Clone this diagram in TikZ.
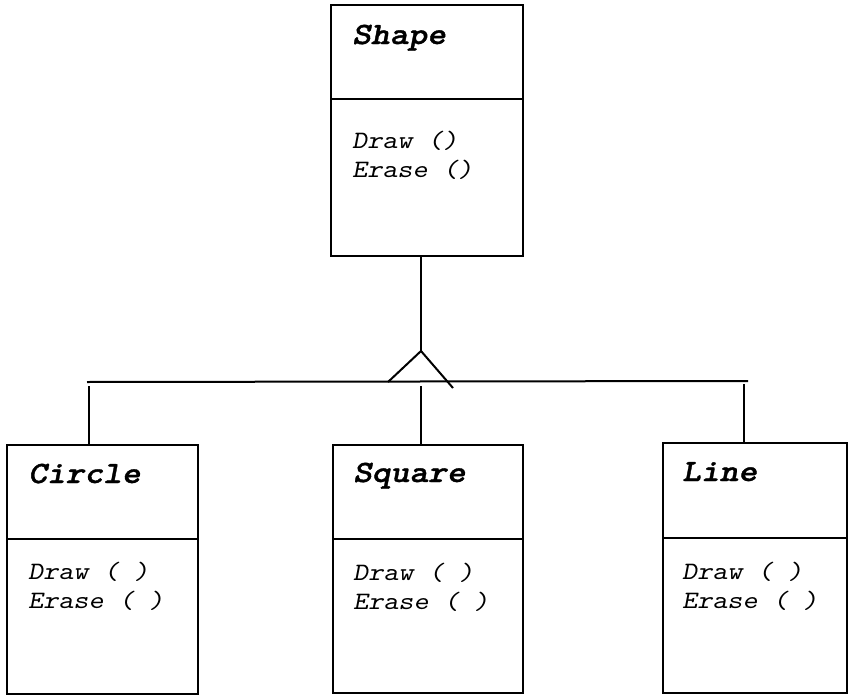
\documentclass[tikz,border=0pt]{standalone}
\usepackage{fontspec}
\IfFontExistsTF{lmmonolt10-boldoblique.otf}
  {\newfontfamily\titlefont{lmmonolt10-boldoblique}[Extension=.otf, FakeStretch=1.15, FakeBold=1.2]}
  {\newfontfamily\titlefont{Liberation Mono}[UprightFont=*-Bold Italic]}
\IfFontExistsTF{lmmonoslant10-regular.otf}
  {\newfontfamily\methfont{lmmonoslant10-regular}[Extension=.otf, FakeStretch=1.15]}
  {\newfontfamily\methfont{Liberation Mono}[UprightFont=* Italic]}
\begin{document}
\begin{tikzpicture}[x=1pt,y=-1pt,
  box/.style={draw=black, line width=2pt, rectangle, inner sep=0pt, outer sep=0pt, anchor=north west},
  divline/.style={line width=1.6pt},
  conn/.style={line width=2pt},
  title/.style={anchor=base west, inner sep=0pt, font=\titlefont\fontsize{31}{31}\selectfont},
  meth/.style={anchor=base west, inner sep=0pt, font=\methfont\fontsize{25}{29}\selectfont}]
\useasboundingbox[fill=white] (0,0) rectangle (849,696);

% boxes
\node[box, minimum width=192pt, minimum height=251pt] (shape) at (331,5) {};
\node[box, minimum width=191pt, minimum height=249pt] (circle) at (7,445) {};
\node[box, minimum width=190pt, minimum height=248pt] (square) at (333,445) {};
\node[box, minimum width=184pt, minimum height=250pt] (line) at (663,443) {};

% dividers
\draw[divline] (shape.west |- 0,99) -- (shape.east |- 0,99);
\draw[divline] (circle.west |- 0,539) -- (circle.east |- 0,539);
\draw[divline] (square.west |- 0,539) -- (square.east |- 0,539);
\draw[divline] (line.west |- 0,538) -- (line.east |- 0,538);

% texts
\node[title] (shapeT) at (352,44) {Shape};
\node[meth] (shapeD) at (352,148) {Draw ()};
\node[meth] (shapeE) at (352,177) {Erase ()};

\node[title] (circleT) at (28,483) {Circle};
\node[meth] (circleD) at (28,579) {Draw ( )};
\node[meth] (circleE) at (28,608) {Erase ( )};

\node[title] (squareT) at (353,482) {Square};
\node[meth] (squareD) at (353,580) {Draw ( )};
\node[meth] (squareE) at (353,609) {Erase ( )};

\node[title] (lineT) at (682,481) {Line};
\node[meth] (lineD) at (682,579) {Draw ( )};
\node[meth] (lineE) at (682,608) {Erase ( )};

% inheritance connector
\coordinate (apex) at (421,351);
\coordinate (tl) at (388,382);
\coordinate (tr) at (453,388);
\coordinate (barL) at (87,382);
\coordinate (barR) at (748,381);
\coordinate (dC) at (89,386);
\coordinate (dS) at (421,386);
\coordinate (dL) at (744,384);

\draw[conn] (shape.south -| apex) -- (apex);
\draw[conn, line join=miter] (tl) -- (apex) -- (tr);
\draw[conn] (barL) -- (barR);
\draw[conn] (dC) -- (dC |- circle.north);
\draw[conn] (dS) -- (dS |- square.north);
\draw[conn] (dL) -- (dL |- line.north);
\end{tikzpicture}
\end{document}
